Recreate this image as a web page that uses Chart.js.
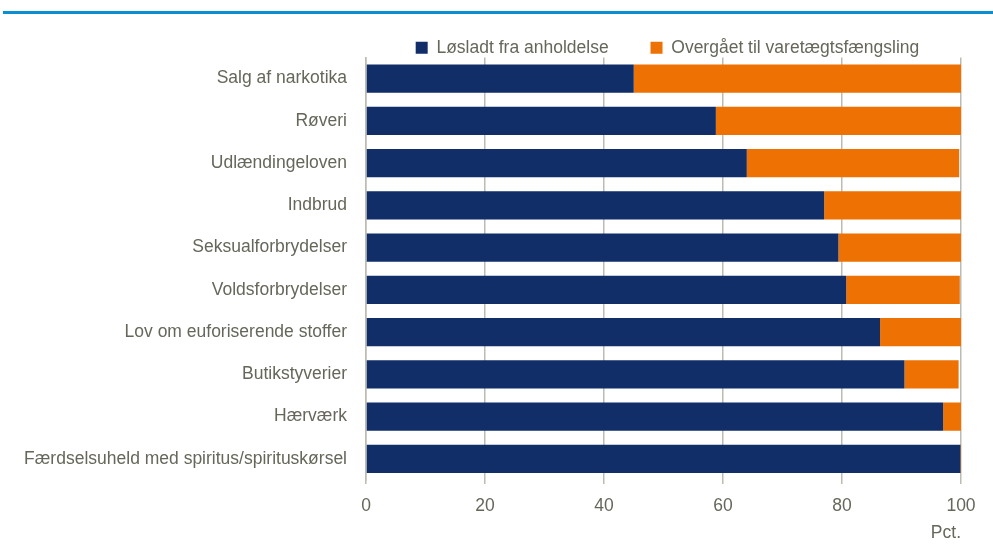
<!DOCTYPE html>
<html>
<head>
<meta charset="utf-8">
<script src="https://cdn.jsdelivr.net/npm/chart.js@4"></script>
<style>
  html, body { margin: 0; padding: 0; background: #fff; }
  #wrap { position: relative; width: 993px; height: 544px; }
  #topline { position: absolute; left: 3px; right: 0; top: 11px; height: 3px; background: #0a8fd0; }
  canvas { position: absolute; left: 0; top: 0; }
</style>
</head>
<body>
<div id="wrap">
  <div id="topline"></div>
  <canvas id="chart" width="993" height="544"></canvas>
</div>
<script>
const categories = [
    'Salg af narkotika',
    'Røveri',
    'Udlændingeloven',
    'Indbrud',
    'Seksualforbrydelser',
    'Voldsforbrydelser',
    'Lov om euforiserende stoffer',
    'Butikstyverier',
    'Hærværk',
    'Færdselsuheld med spiritus/spirituskørsel'
];
const released = [45.0, 58.8, 64.0, 77.0, 79.4, 80.7, 86.4, 90.5, 97.0, 99.9];
const remanded = [55.0, 41.2, 35.7, 23.0, 20.6, 19.1, 13.6, 9.1, 3.0, 0.1];
const seriesNames = ['Løsladt fra anholdelse', 'Overgået til varetægtsfængsling'];
const xTicks = [0, 20, 40, 60, 80, 100];

const textColor = '#66665a';
const gridColor = '#bcbcb2';
const font = { family: 'Liberation Sans', size: 17.5 };

// nudge the legend down closer to the plot, like the original
const legendShift = {
    id: 'legendShift',
    afterLayout(chart) {
        const lg = chart.legend;
        lg.top += 9; lg.bottom += 9;
        lg.left += 4; lg.right += 4;
    }
};

const ctx = document.getElementById('chart').getContext('2d');
const myChart = new Chart(ctx, {
    type: 'bar',
    data: {
        labels: categories,
        datasets: [
            { label: seriesNames[0], data: released, backgroundColor: '#112e69', barPercentage: 0.67, categoryPercentage: 1 },
            { label: seriesNames[1], data: remanded, backgroundColor: '#ee7203', barPercentage: 0.67, categoryPercentage: 1 }
        ]
    },
    options: {
        indexAxis: 'y',
        responsive: false,
        animation: false,
        layout: { padding: { left: 0, right: 32, top: 27, bottom: 0 } },
        plugins: {
            legend: {
                position: 'top',
                fullSize: false,
                labels: {
                    boxWidth: 12, boxHeight: 12, padding: 3,
                    color: textColor,
                    font: font,
                    generateLabels: chart => {
                        const items = Chart.defaults.plugins.legend.labels.generateLabels(chart);
                        items[0].text += '        ';
                        items.forEach(it => { it.lineWidth = 0; });
                        return items;
                    }
                }
            },
            tooltip: { enabled: false }
        },
        scales: {
            x: {
                stacked: true,
                min: 0, max: 100,
                afterBuildTicks: s => { s.ticks = xTicks.map(v => ({ value: v })); },
                grid: { color: gridColor, lineWidth: 1.5, tickLength: 4, drawTicks: true },
                border: { display: false },
                ticks: { color: textColor, padding: 12, font: font },
                title: {
                    display: true, text: 'Pct.', align: 'end', color: textColor,
                    padding: { top: -6, bottom: 0 },
                    font: font
                }
            },
            y: {
                stacked: true,
                afterFit: s => { s.width = 366; },
                grid: { display: false, drawTicks: false },
                border: { display: true, color: gridColor, width: 1.5 },
                ticks: { color: textColor, padding: 19, font: font }
            }
        }
    },
    plugins: [legendShift]
});
</script>
</body>
</html>
